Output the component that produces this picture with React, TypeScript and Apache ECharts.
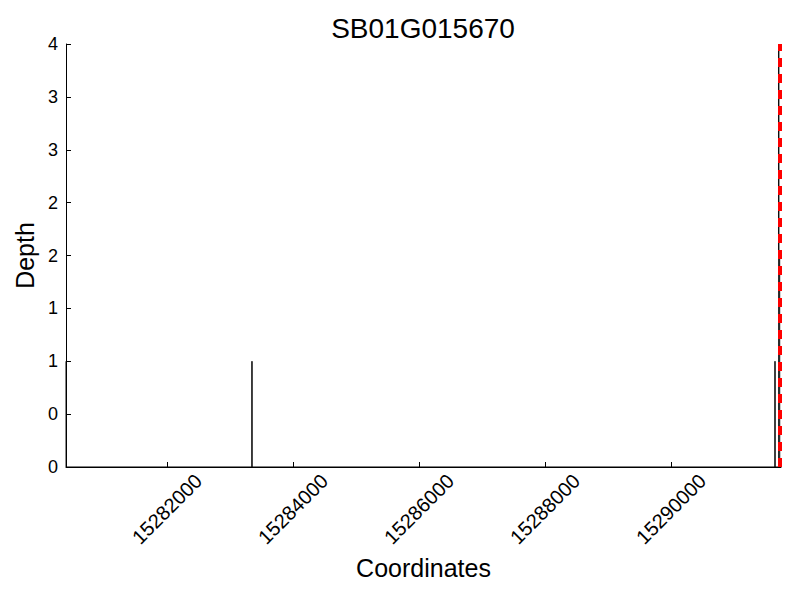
import React, { useEffect, useRef } from "react";
import * as echarts from "echarts";

const titleText = "SB01G015670";
const xAxisName = "Coordinates";
const yAxisName = "Depth";

// Coverage trace (coordinate, depth) drawn as a line
const coordinates = [
  15280397, 15280398, 15283348, 15283349, 15283350, 15291650, 15291651, 15291652,
  15291709, 15291710, 15291711, 15291725, 15291726, 15291746,
];
const depths = [1, 0, 0, 1, 0, 0, 1, 0, 0, 4, 2, 2, 0, 0];

const xMin = 15280397;
const xMax = 15291746;
const xTicks = [15282000, 15284000, 15286000, 15288000, 15290000];
const markerCoordinate = 15291730;

const FONT = "Liberation Sans";

export default function App() {
  const ref = useRef<HTMLDivElement>(null);
  useEffect(() => {
    if (!ref.current) return;
    const chart = echarts.init(ref.current, null, { renderer: "svg" });
    const data = coordinates.map((c, i) => [c, depths[i]]);
    chart.setOption({
      animation: false,
      backgroundColor: "#ffffff",
      textStyle: { fontFamily: FONT },
      title: {
        text: titleText,
        left: 423,
        textAlign: "center",
        top: 14,
        padding: 0,
        textStyle: { fontFamily: FONT, fontSize: 28, fontWeight: "normal", color: "#000" },
      },
      grid: { left: 66, right: 19, top: 44, bottom: 133, containLabel: false },
      xAxis: {
        type: "value",
        min: xMin,
        max: xMax,
        name: xAxisName,
        nameLocation: "middle",
        nameGap: 88,
        nameTextStyle: { fontFamily: FONT, fontSize: 25, color: "#000" },
        axisLine: { show: true, onZero: false, lineStyle: { color: "#000", width: 1 } },
        axisTick: { show: true, inside: true, length: 5, customValues: xTicks, lineStyle: { color: "#000" } },
        axisLabel: {
          customValues: xTicks,
          rotate: 45,
          align: "center",
          verticalAlign: "middle",
          margin: 42,
          fontFamily: FONT,
          fontSize: 20,
          color: "#000",
          formatter: (v: number) => String(v),
        },
        splitLine: { show: false },
      },
      yAxis: {
        type: "value",
        min: 0,
        max: 4,
        interval: 0.5,
        name: yAxisName,
        nameLocation: "middle",
        nameGap: 26,
        nameTextStyle: { fontFamily: FONT, fontSize: 25, color: "#000" },
        axisLine: { show: true, onZero: false, lineStyle: { color: "#000", width: 1 } },
        axisTick: { show: true, inside: true, length: 5, lineStyle: { color: "#000" } },
        axisLabel: {
          margin: 8,
          fontFamily: FONT,
          fontSize: 18,
          color: "#000",
          formatter: (v: number) => String(Math.floor(v)),
        },
        splitLine: { show: false },
      },
      series: [
        {
          type: "line",
          data,
          showSymbol: false,
          symbol: "none",
          lineStyle: { color: "#000", width: 1 },
          clip: false,
          markLine: {
            silent: true,
            symbol: "none",
            z: 10,
            label: { show: false },
            lineStyle: { color: "#ff0000", width: 4, type: [9, 7] },
            data: [{ xAxis: markerCoordinate }],
          },
        },
      ],
    });
    return () => chart.dispose();
  }, []);
  return (
    <div
      ref={ref}
      style={{ position: "fixed", left: 0, top: 0, width: 800, height: 600 }}
    />
  );
}
